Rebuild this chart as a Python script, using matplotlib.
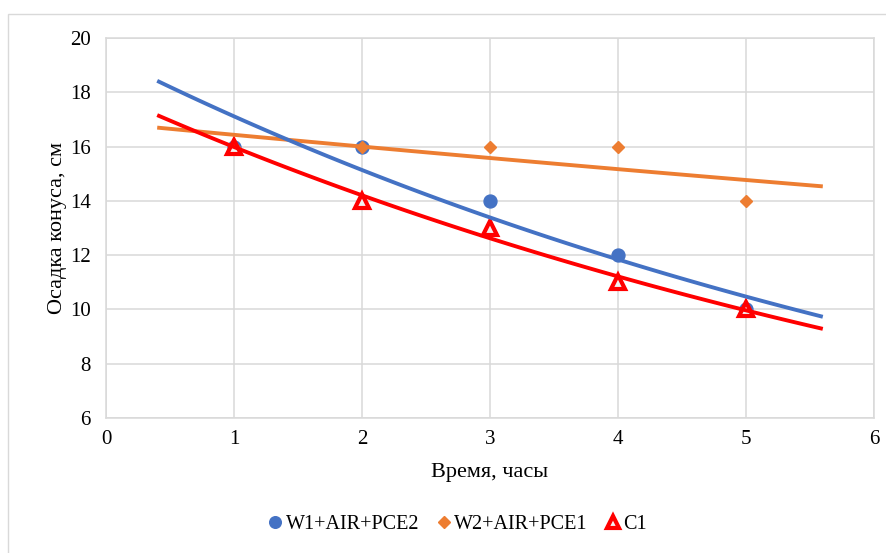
import numpy as np
import matplotlib
matplotlib.use("Agg")
import matplotlib.pyplot as plt
from matplotlib.patches import Rectangle

# Slump of the cone over time for three mixes
hours = [1, 2, 3, 4, 5]
w1_air_pce2 = [16, 16, 14, 12, 10]
w2_air_pce1 = [16, 16, 16, 16, 14]
c1 = [16, 14, 13, 11, 10]

series_names = ["W1+AIR+PCE2", "W2+AIR+PCE1", "C1"]
x_ticks = [0, 1, 2, 3, 4, 5, 6]
y_ticks = [6, 8, 10, 12, 14, 16, 18, 20]

plt.rcParams["font.family"] = ["Liberation Serif", "DejaVu Serif"]

fig = plt.figure(figsize=(8.87, 5.53), dpi=100)
ax = fig.add_axes([106 / 887, 1 - 418 / 553, (874 - 106) / 887, (418 - 38) / 553])

# light outer frame of the chart area
fig.patches.append(Rectangle((8 / 887, -0.01), 1.0, 1 - 14 / 553 + 0.01,
                             transform=fig.transFigure, fill=False,
                             edgecolor="#D9D9D9", linewidth=1.0))


def exp_trend(x, y, x0, x1):
    # exponential trendline y = a*exp(b*x), fitted on log(y)
    b, ln_a = np.polyfit(np.asarray(x, float), np.log(np.asarray(y, float)), 1)
    xs = np.linspace(x0, x1, 100)
    return xs, np.exp(ln_a + b * xs)


blue = "#4472C4"
orange = "#ED7D31"
red = "#FF0000"

h1, = ax.plot(hours, w1_air_pce2, linestyle="none", marker="o", markersize=9.3,
              color=blue, zorder=3)
h2, = ax.plot(hours, w2_air_pce1, linestyle="none", marker="D", markersize=6.5,
              color=orange, zorder=4)
h3, = ax.plot(hours, c1, linestyle="none", marker="^", markersize=9.5,
              markerfacecolor="#F2F2F2", markeredgecolor=red, markeredgewidth=3.0,
              color=red, zorder=5)

for vals, col, z in ((w2_air_pce1, orange, 6), (w1_air_pce2, blue, 7), (c1, red, 8)):
    xs, ys = exp_trend(hours, vals, 0.4, 5.6)
    ax.plot(xs, ys, color=col, linewidth=2.8, solid_capstyle="butt", zorder=z)

ax.set_xlim(0, 6)
ax.set_ylim(6, 20)
ax.set_xticks(x_ticks)
ax.set_yticks(y_ticks)
ax.tick_params(length=0, labelsize=15, colors="black")
ax.tick_params(axis="y", pad=11)
ax.tick_params(axis="x", pad=9)
ax.grid(True, color="#D9D9D9", linewidth=1.1)
ax.set_axisbelow(True)
for s in ax.spines.values():
    s.set_color("#D9D9D9")
    s.set_linewidth(1.1)

ax.set_xlabel("Время, часы", fontsize=16, labelpad=10)
ax.set_ylabel("Осадка конуса, см", fontsize=16, labelpad=2)

fig.legend([h1, h2, h3], series_names, loc="center", bbox_to_anchor=(457 / 887, 1 - 524 / 553),
           ncol=3, frameon=False, fontsize=14.5, handlelength=0.8, handletextpad=0.1,
           columnspacing=0.85, markerscale=0.9)

fig.savefig("out.png", dpi=100)
